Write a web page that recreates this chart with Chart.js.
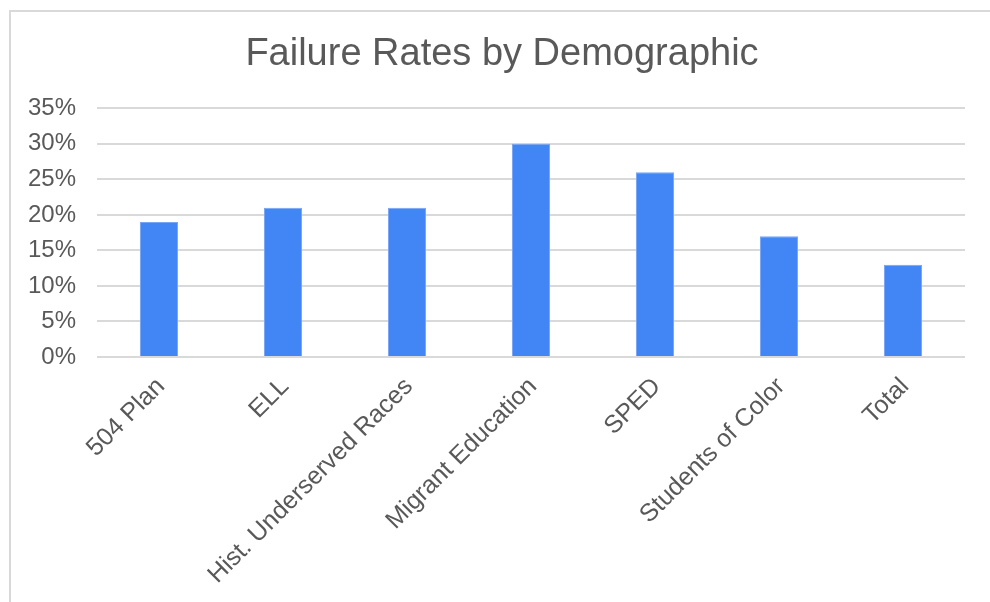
<!DOCTYPE html>
<html>
<head>
<meta charset="utf-8">
<script src="https://cdn.jsdelivr.net/npm/chart.js@4.4.1/dist/chart.umd.min.js"></script>
<style>
  html, body { margin: 0; padding: 0; background: #ffffff; }
  #wrap { position: relative; width: 990px; height: 602px; overflow: hidden; background: #ffffff; }
  #frame { position: absolute; left: 9px; top: 10px; width: 1100px; height: 700px; border: 2px solid #d9d9d9; box-sizing: border-box; }
  #c { position: absolute; left: 0; top: 0; }
</style>
</head>
<body>
<div id="wrap">
  <div id="frame"></div>
  <canvas id="c" width="1004" height="602"></canvas>
</div>
<script>
const categories = ["504 Plan", "ELL", "Hist. Underserved Races", "Migrant Education", "SPED", "Students of Color", "Total"];
const failureRates = [19, 21, 21, 30, 26, 17, 13];
const yTickMax = 35;
const yTickStep = 5;
const chartTitle = "Failure Rates by Demographic";

const textColor = "#595959";
const fontFamily = "'Liberation Sans', Arial, sans-serif";

new Chart(document.getElementById("c"), {
  type: "bar",
  data: {
    labels: categories,
    datasets: [{
      label: "Failure Rate",
      data: failureRates,
      backgroundColor: "#4285F4",
      borderColor: "#77a6f7",
      borderWidth: 1,
      barPercentage: 0.307,
      categoryPercentage: 1.0,
      yAxisID: "y"
    }]
  },
  options: {
    responsive: false,
    animation: false,
    devicePixelRatio: 1,
    layout: { padding: { left: 0, right: 0, top: 0, bottom: 0 } },
    plugins: {
      legend: { display: false },
      tooltip: { enabled: false },
      title: {
        display: true,
        text: chartTitle,
        color: textColor,
        font: { family: fontFamily, size: 38, weight: "normal", lineHeight: 1.2 },
        padding: { top: 32, bottom: 30.7 }
      }
    },
    scales: {
      x: {
        grid: { display: false, drawTicks: false },
        border: { display: false },
        ticks: {
          color: textColor,
          font: { family: fontFamily, size: 25 },
          maxRotation: 45,
          minRotation: 45,
          autoSkip: false,
          padding: 15,
          labelOffset: 2
        },
        afterFit(scale) { scale.height = 245; }
      },
      y: {
        min: 0,
        max: yTickMax,
        grid: { color: "#d9d9d9", lineWidth: 2, drawTicks: false },
        border: { display: false },
        ticks: {
          stepSize: yTickStep,
          color: textColor,
          font: { family: fontFamily, size: 24 },
          padding: 21,
          callback: (v) => v + "%"
        },
        afterFit(scale) { scale.width = 97; }
      },
      yR: {
        type: "linear",
        position: "right",
        display: true,
        grid: { display: false, drawTicks: false },
        border: { display: false },
        ticks: { display: false },
        afterFit(scale) { scale.width = 39; }
      }
    }
  }
});
</script>
</body>
</html>
